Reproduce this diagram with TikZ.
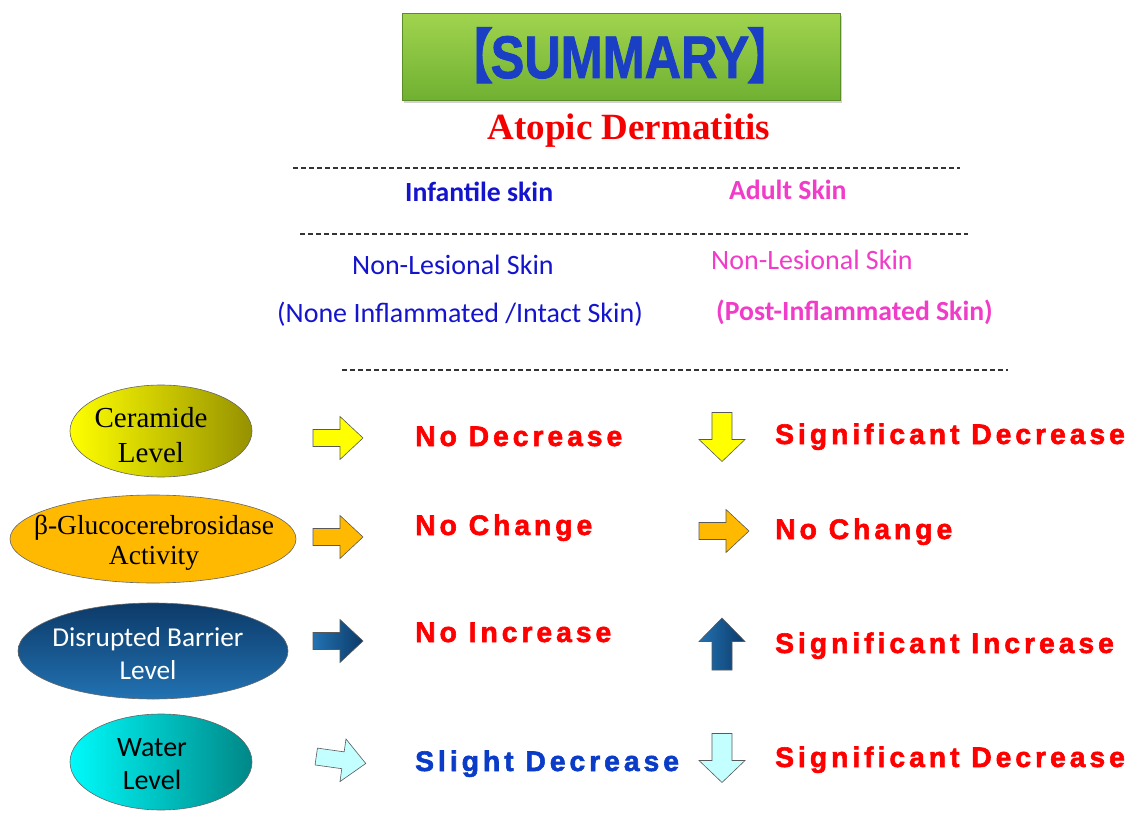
\documentclass[tikz,border=0pt]{standalone}
\usepackage{fontspec}
\setmainfont{Liberation Serif}
\newfontfamily\arial{Liberation Sans}
\newfontfamily\arialttl{Liberation Sans Bold}[FakeBold=1.5]
\newfontfamily\arialspb{Liberation Sans Bold}[LetterSpace=14, FakeBold=2]
\newfontfamily\calibri{Carlito}
\newfontfamily\cjk{Noto Sans CJK SC}[FakeBold=1.5]
\usetikzlibrary{shapes.geometric,shadows}
\definecolor{titleblue}{RGB}{26,62,196}
\definecolor{adred}{RGB}{245,0,0}
\definecolor{hdblue}{RGB}{20,20,205}
\definecolor{hdmag}{RGB}{240,60,200}
\definecolor{resred}{RGB}{255,0,0}
\definecolor{resblue}{RGB}{10,60,200}
\definecolor{ylw}{RGB}{255,255,0}
\definecolor{ylwdark}{RGB}{150,145,0}
\definecolor{orng}{RGB}{255,185,0}
\definecolor{dblue1}{RGB}{12,58,104}
\definecolor{dblue2}{RGB}{34,114,178}
\definecolor{cyan1}{RGB}{0,250,250}
\definecolor{cyan2}{RGB}{0,135,135}
\definecolor{lcyan}{RGB}{196,255,255}
\definecolor{grn1}{RGB}{160,212,78}
\definecolor{grn2}{RGB}{112,176,50}
\tikzset{
  res/.style={anchor=base west, inner sep=0pt, text=resred, font=\arialspb\fontsize{28.3}{30}\selectfont},
  hd/.style={anchor=base west, inner sep=0pt, font=\calibri\fontsize{28}{30}\selectfont},
  hdb/.style={hd, font=\calibri\bfseries\fontsize{27.7}{30}\selectfont},
  ovalline/.style={draw=black!60, line width=0.6pt},
  otext/.style={inner sep=0pt, align=center},
  dline/.style={line width=1.2pt, dash pattern=on 5pt off 3pt, black!80},
  arr/.style={draw=black!65, line width=0.6pt},
  pics/rarr/.style={code={\path[pic actions] (-25,-8.5) -- (2,-8.5) -- (2,-21.5) -- (25,0) -- (2,21.5) -- (2,8.5) -- (-25,8.5) -- cycle;}},
  pics/darr/.style={code={\path[pic actions] (-10,-24.5) -- (10,-24.5) -- (10,2.5) -- (23,2.5) -- (0,24.5) -- (-23,2.5) -- (-10,2.5) -- cycle;}},
  pics/uarr/.style={code={\path[pic actions] (-10,26) -- (10,26) -- (10,-2.5) -- (23,-2.5) -- (0,-26) -- (-23,-2.5) -- (-10,-2.5) -- cycle;}}
}
\begin{document}
\begin{tikzpicture}[x=1pt,y=-1pt]
\useasboundingbox[fill=white] (0,0) rectangle (1133,834);
% title
\node[rectangle, minimum width=438pt, minimum height=87pt, inner sep=0pt,
  top color=grn1, bottom color=grn2, draw=grn2!80!black, line width=0.5pt,
  drop shadow={shadow xshift=1.5pt, shadow yshift=-2.5pt, opacity=0.35}] (tbox) at (621,57) {};
\node[anchor=base, inner sep=0pt, text=titleblue] (ttl) at (620,78)
  {\scalebox{0.84}[1]{\fontsize{60}{64}\selectfont{\cjk\hspace{-0.45em}【}\hspace{-0.06em}{\arialttl SUMMARY}\hspace{-0.06em}{\cjk 】\hspace{-0.45em}}}};
\node[anchor=base, inner sep=0pt, text=adred, font=\bfseries\fontsize{37}{40}\selectfont] (ad) at (629,140) {Atopic Dermatitis};
% dashed lines
\draw[dline] (293,168) -- (960,168);
\draw[dline] (300,234) -- (968,234);
\draw[dline] (342,370) -- (1008,370);
% headings
\node[hdb, text=hdblue] (inf) at (405,202) {Infantile skin};
\node[hdb, text=hdmag] (adu) at (729,200) {Adult Skin};
\node[hd, text=hdblue] (nl1) at (352,275) {Non-Lesional Skin};
\node[hd, text=hdmag] (nl2) at (711,270) {Non-Lesional Skin};
\node[hd, text=hdblue] (nil) at (277,323) {(None Inflammated /Intact Skin)};
\node[hdb, text=hdmag] (pil) at (716,321) {(Post-Inflammated Skin)};
% ovals
\path[ovalline, left color=ylw, right color=ylwdark] (161,431) ellipse [x radius=91pt, y radius=46pt];
\node[otext, font=\fontsize{29}{35}\selectfont] (cer) at (151,435) {Ceramide\\Level};
\path[ovalline, fill=orng] (153,539) ellipse [x radius=143pt, y radius=44pt];
\node[otext, font=\fontsize{27.5}{30}\selectfont] (glu) at (154,543) {β-Glucocerebrosidase\\Activity};
\path[ovalline, top color=dblue1, bottom color=dblue2] (153,651) ellipse [x radius=135pt, y radius=48pt];
\node[otext, text=white, font=\calibri\fontsize{27.3}{33}\selectfont] (bar) at (148,654) {Disrupted Barrier\\Level};
\path[ovalline, left color=cyan1, right color=cyan2] (161,762) ellipse [x radius=91pt, y radius=48pt];
\node[otext, font=\calibri\fontsize{28}{33}\selectfont] (wat) at (152,764) {Water\\Level};
% left arrows
\pic[arr, fill=ylw] at (338,438) {rarr};
\pic[arr, fill=orng] at (338,537) {rarr};
\pic[arr, left color=dblue2, right color=dblue1] at (338,641) {rarr};
\pic[arr, fill=lcyan, rotate=-8] at (341,760) {rarr};
% middle results
\node[res] (r11) at (415,446) {No Decrease};
\node[res] (r21) at (415,535) {No Change};
\node[res] (r31) at (415,642) {No Increase};
\node[res, text=resblue] (r41) at (415,771) {Slight Decrease};
% right arrows
\pic[arr, fill=ylw] at (722,437) {darr};
\pic[arr, fill=orng] at (724,531) {rarr};
\pic[arr, left color=dblue2, right color=dblue1] at (722,644) {uarr};
\pic[arr, fill=lcyan] at (722,758) {darr};
% right results
\node[res] (r12) at (775,444) {Significant Decrease};
\node[res] (r22) at (775,539) {No Change};
\node[res] (r32) at (775,653) {Significant Increase};
\node[res] (r42) at (775,767) {Significant Decrease};
\end{tikzpicture}
\end{document}
